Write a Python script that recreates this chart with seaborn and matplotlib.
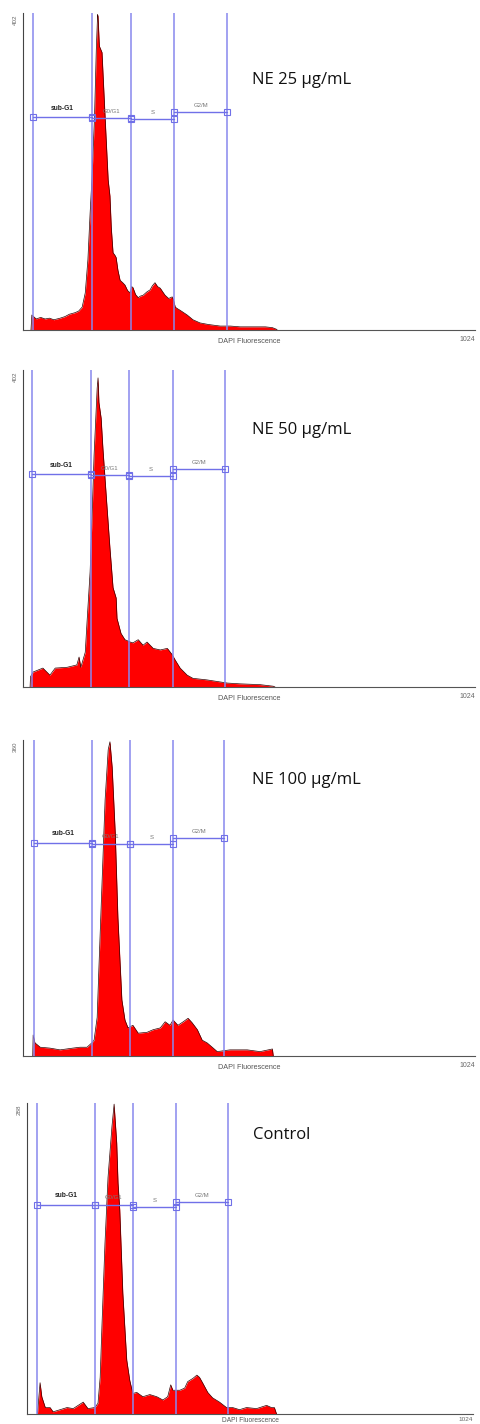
import matplotlib
matplotlib.use("Agg")
import matplotlib.pyplot as plt
import seaborn as sns

# DAPI channel (0-1024) and cell counts
chan_25 = [18, 20, 30, 40, 50, 60, 70, 84, 95, 105, 118, 126, 134, 141, 147, 152, 156, 162, 166, 169,
           170, 173, 176, 179, 186, 193, 197, 200, 204, 208, 211, 215, 220, 226, 231, 237, 243, 246, 249, 255,
           261, 266, 272, 280, 288, 293, 299, 305, 311, 317, 322, 330, 338, 341, 345, 350, 356, 364, 372, 385,
           401, 420, 447, 470, 492, 520, 549, 565, 574, 576]
count_25 = [0, 19, 14, 16, 14, 15, 13, 15, 17, 20, 22, 24, 29, 47, 89, 148, 190, 270, 355, 400,
            398, 360, 356, 352, 270, 190, 170, 130, 98, 95, 92, 76, 63, 60, 57, 50, 47, 55, 54, 45,
            41, 43, 44, 48, 51, 56, 60, 55, 53, 48, 44, 40, 42, 38, 29, 27, 25, 22, 19, 13,
            9, 7, 5, 5, 4, 4, 4, 3, 1, 0]

chan_50 = [16, 17, 23, 45, 61, 73, 100, 122, 127, 131, 141, 145, 152, 156, 161, 168, 170, 172, 177, 181,
           190, 197, 204, 211, 213, 222, 231, 243, 249, 261, 272, 281, 295, 311, 327, 338, 345, 356, 372, 385,
           417, 463, 492, 537, 567, 571]
count_50 = [0, 13, 19, 24, 15, 24, 25, 28, 38, 25, 44, 82, 146, 209, 294, 379, 392, 361, 341, 303,
            231, 176, 126, 113, 87, 68, 60, 57, 56, 60, 53, 57, 49, 47, 49, 41, 34, 24, 15, 11,
            9, 5, 4, 3, 1, 0]

chan_100 = [22, 23, 27, 39, 61, 84, 113, 129, 145, 156, 161, 168, 172, 179, 186, 193, 197, 202, 209, 215,
            224, 231, 238, 249, 261, 281, 295, 311, 322, 333, 340, 351, 363, 374, 383, 395, 406, 417, 431, 440,
            469, 508, 537, 565, 567]
count_100 = [0, 24, 15, 10, 9, 7, 9, 10, 10, 15, 18, 44, 101, 197, 292, 349, 358, 329, 254, 158,
             64, 41, 32, 35, 26, 27, 30, 32, 39, 35, 41, 35, 39, 43, 38, 30, 18, 15, 9, 5,
             7, 7, 5, 8, 0]

chan_ctrl = [24, 30, 34, 42, 53, 60, 76, 92, 106, 129, 140, 156, 163, 168, 172, 179, 186, 195, 200, 206,
             209, 213, 220, 229, 236, 243, 252, 266, 282, 298, 312, 323, 330, 335, 351, 362, 369, 381, 390, 396,
             403, 415, 426, 442, 458, 472, 488, 504, 527, 550, 561, 568, 573]
count_ctrl = [0, 29, 16, 6, 6, 2, 4, 6, 5, 11, 5, 6, 10, 34, 81, 158, 219, 266, 287, 251,
              214, 189, 112, 50, 31, 19, 20, 16, 18, 16, 13, 16, 27, 22, 22, 24, 30, 33, 36, 34,
              29, 20, 15, 11, 6, 6, 4, 6, 5, 8, 6, 6, 0]

# gate boundaries (channel) and gate bar heights (count)
gates_25 = [23, 156, 245, 342, 463]
levels_25 = [270, 269, 268, 276]
gates_50 = [20, 154, 240, 340, 458]
levels_50 = [270, 269, 267, 276]
gates_100 = [25, 156, 243, 340, 456]
levels_100 = [243, 242, 241, 248]
gates_ctrl = [24, 156, 243, 342, 461]
levels_ctrl = [194, 194, 192, 196]

gate_names = ["sub-G1", "G0/G1", "S", "G2/M"]
titles = ["NE 25 µg/mL", "NE 50 µg/mL", "NE 100 µg/mL", "Control"]
ymax = [402, 402, 360, 288]

panels = [
    (chan_25, count_25, gates_25, levels_25, 5),
    (chan_50, count_50, gates_50, levels_50, 5),
    (chan_100, count_100, gates_100, levels_100, 10),
    (chan_ctrl, count_ctrl, gates_ctrl, levels_ctrl, 10),
]

W, H = 481, 1424
# axes boxes in pixels: left, top, right, bottom
boxes = [(23, 13, 475, 330), (23, 370, 475, 687), (23, 740, 475, 1056), (27, 1103, 473, 1414)]
title_pos = [(252, 80), (252, 430), (252, 780), (253, 1135)]

sns.set_style("white")
plt.rcParams["font.family"] = ["Liberation Sans", "DejaVu Sans"]

fig = plt.figure(figsize=(W / 100, H / 100), dpi=100)
gate_col = "#8888ee"

for i, (chan, count, gates, levels, ystep) in enumerate(panels):
    l, t, r, b = boxes[i]
    ax = fig.add_axes([l / W, 1 - b / H, (r - l) / W, (b - t) / H])

    ax.fill_between(chan, 0, count, color="#ff0000", lw=0, zorder=2)
    sns.lineplot(x=chan, y=count, ax=ax, color="#330000", lw=0.5, estimator=None, zorder=3)

    # gate markers
    for g in gates:
        ax.axvline(g, color=gate_col, lw=1.1, zorder=4)
    for k in range(4):
        x0, x1 = gates[k], gates[k + 1]
        lv = levels[k]
        ax.plot([x0, x1], [lv, lv], color="#7070e8", lw=1.0, zorder=5,
                marker="s", ms=4.2, mfc="none", mec="#7070e8", mew=0.8)
        ax.annotate(gate_names[k], ((x0 + x1) / 2, lv), xytext=(0, 3 if k else 4),
                    textcoords="offset points", ha="center", va="bottom",
                    fontsize=4.3 if k else 4.8,
                    color="#222222" if k == 0 else "#777777",
                    fontweight="bold" if k == 0 else "normal", zorder=6)

    ax.set_xlim(0, 1024)
    ax.set_ylim(0, ymax[i])
    ax.set_xticks(range(0, 1001, 100))
    ax.set_xticklabels([])
    ax.set_yticks(range(0, ymax[i] + 1, ystep))
    ax.set_yticklabels([])
    ax.tick_params(axis="x", direction="out", length=2.5, width=0.6, color="#555555")
    ax.tick_params(axis="y", direction="out", length=1.8, width=0.5, color="#555555")
    for s in ["top", "right"]:
        ax.spines[s].set_visible(False)
    ax.spines["left"].set_color("#444444")
    ax.spines["left"].set_linewidth(0.8)
    ax.spines["bottom"].set_color("#555555")
    ax.spines["bottom"].set_linewidth(0.8)

    last = i == len(panels) - 1
    ax.set_xlabel("DAPI Fluorescence", fontsize=4.8 if last else 5.2, color="#555555")
    ax.set_ylabel("")
    lab_y = -0.009 if last else -0.026
    ax.xaxis.set_label_coords(0.5, lab_y)
    ax.text(1.0, -0.009 if last else -0.018, "1024", transform=ax.transAxes, ha="right", va="top",
            fontsize=4.6 if last else 5, color="#666666")
    ax.text(-0.012, 0.995, str(ymax[i]), transform=ax.transAxes, rotation=90,
            ha="right", va="top", fontsize=4.5, color="#666666")

    tx, ty = title_pos[i]
    fig.text(tx / W, 1 - ty / H, titles[i], ha="left", va="center",
             fontsize=12, family=["Open Sans", "DejaVu Sans"], color="#111111")

fig.savefig("out.png", dpi=100)
